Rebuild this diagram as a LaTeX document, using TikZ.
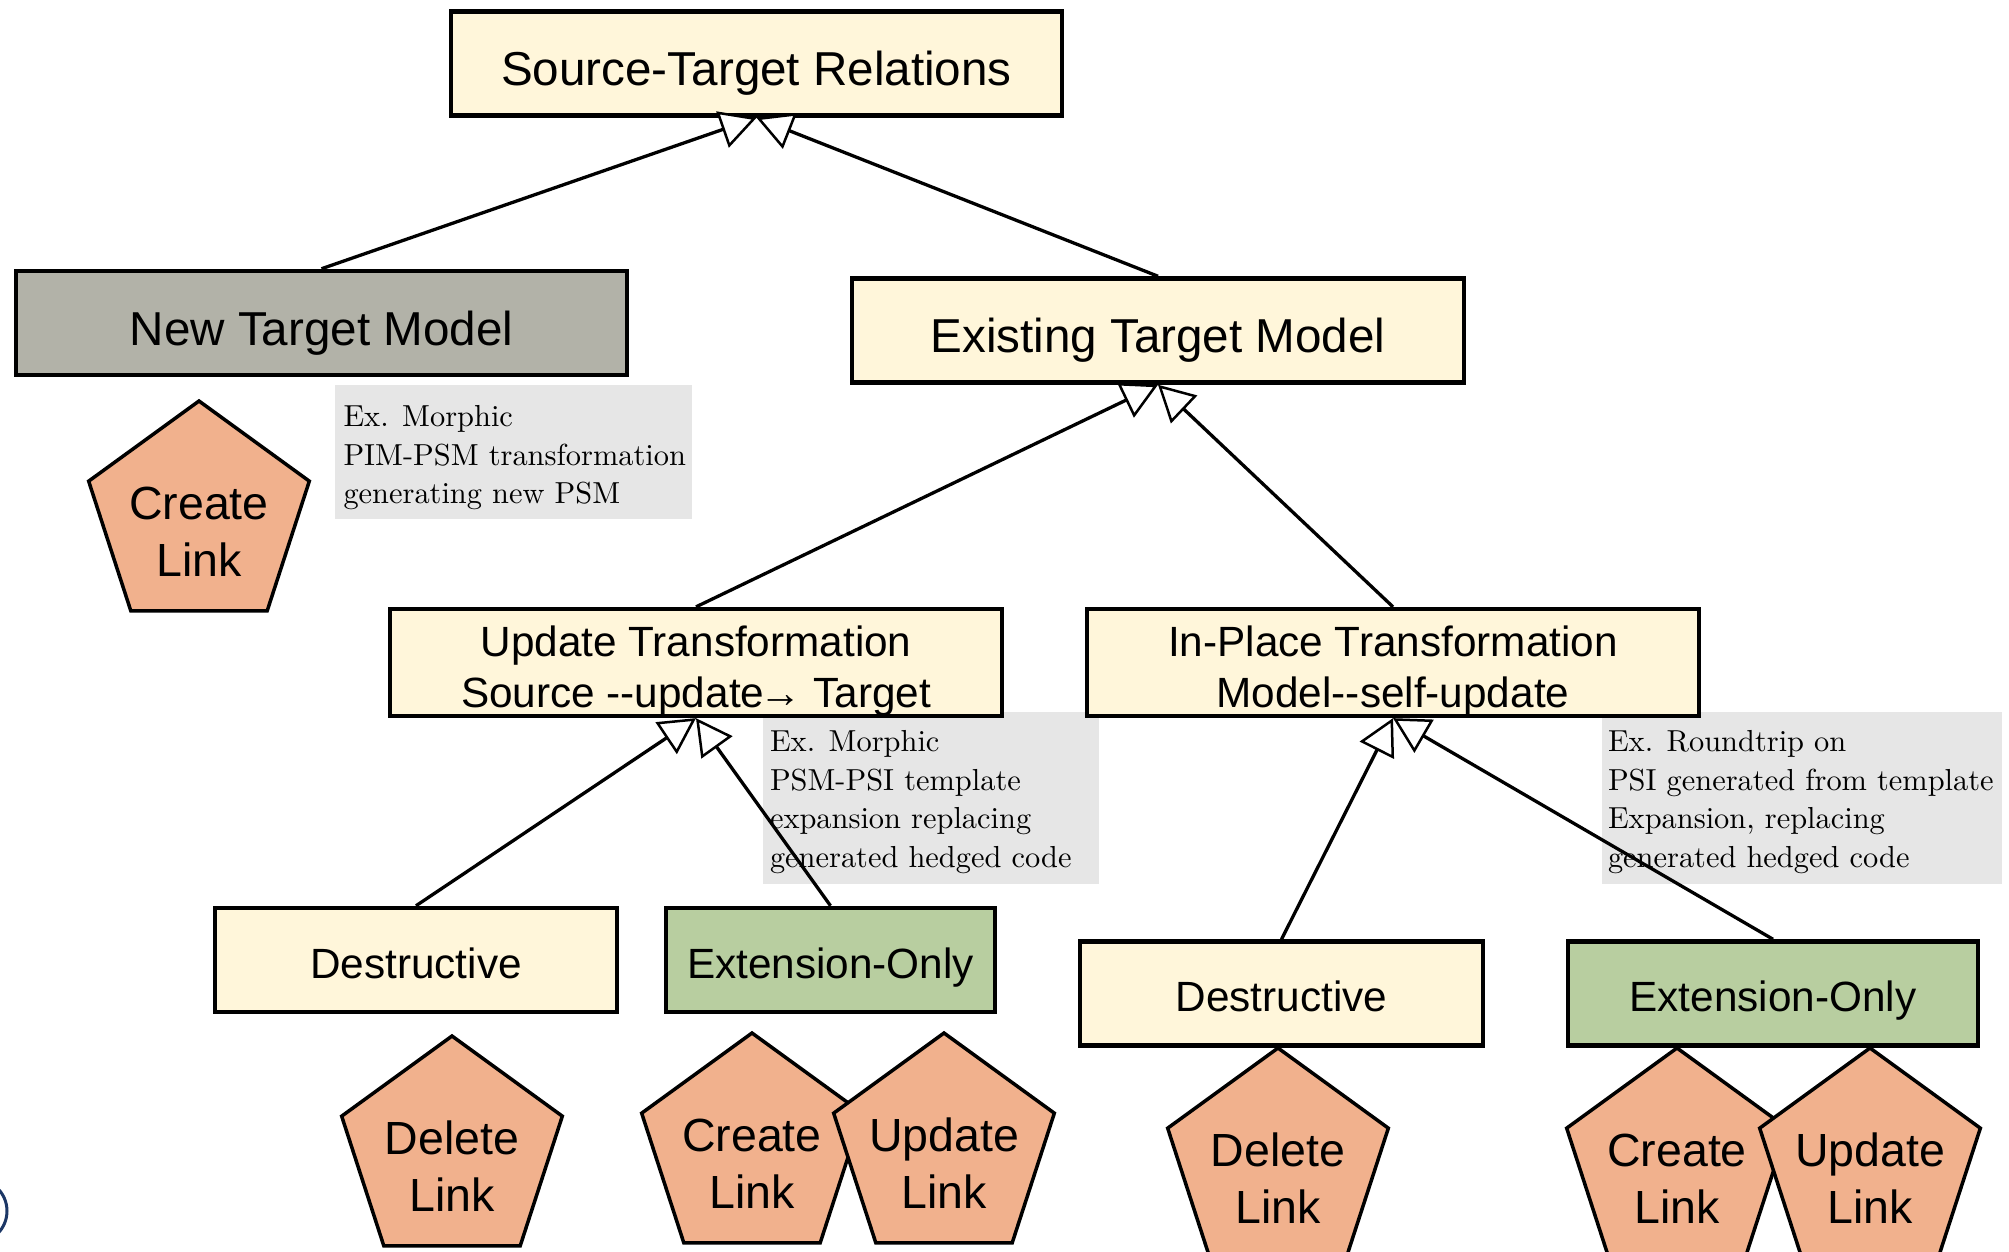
\documentclass[tikz,border=0pt]{standalone}
\usepackage{fontspec}
\setmainfont{Liberation Sans}[Ligatures=TeXOff]
\newfontfamily\notefont{lmroman10-regular}[Extension=.otf]
\usetikzlibrary{arrows.meta,shapes.geometric}
\definecolor{boxyellow}{HTML}{FFF6DA}
\definecolor{boxgray}{HTML}{B2B2A8}
\definecolor{boxgreen}{HTML}{B8CEA0}
\definecolor{pentafill}{HTML}{F1B18D}
\definecolor{notegray}{HTML}{E6E6E6}
\definecolor{navyline}{HTML}{1C3766}
\newcommand\tlx[2]{\rule{0pt}{47pt}#1\\#2}
\begin{document}
\begin{tikzpicture}[x=1pt,y=-1pt,
  box/.style={draw, line width=4.5pt, inner sep=0pt, align=center},
  bigbox/.style={box, minimum height=104pt, font=\fontsize{47.6}{57}\selectfont, text height=44pt, text depth=0pt},
  twobox/.style={box, fill=boxyellow, minimum width=612pt, minimum height=105pt, font=\fontsize{42.3}{51}\selectfont},
  smallbox/.style={box, minimum height=104pt, font=\fontsize{42.3}{51}\selectfont, text height=36pt, text depth=0pt},
  penta/.style={regular polygon, regular polygon sides=5, minimum size=232pt, draw, line width=3.5pt, line join=miter, fill=pentafill, inner sep=0pt},
  ptext/.style={align=center, inner sep=0pt, yshift=-14.5pt, font=\fontsize{46.5}{57}\selectfont},
  note/.style={fill=notegray, inner sep=0pt},
  notetext/.style={anchor=west, inner sep=0pt, align=left, font=\notefont\fontsize{30.4}{38.5}\selectfont},
  gen/.style={line width=3.3pt, -{Triangle[length=36pt, width=38pt, fill=white, line width=2.5pt, line join=miter]}}
]
\useasboundingbox (0,0) rectangle (2009,1251);
\clip (0,0) rectangle (2009,1251);

% notes
\node[note, minimum width=357pt, minimum height=134pt] (n1) at (513.5,452) {};
\node[notetext] (n1t) at ([xshift=8.5pt, yshift=-6pt]n1.west) {Ex. Morphic\\PIM-PSM transformation\\generating new PSM};
\node[note, minimum width=336pt, minimum height=172pt] (n2) at (931,798) {};
\node[notetext] (n2t) at ([xshift=7pt, yshift=-4pt]n2.west) {Ex. Morphic\\PSM-PSI template\\expansion replacing\\generated hedged code};
\node[note, minimum width=400pt, minimum height=172pt] (n3) at (1802,798) {};
\node[notetext] (n3t) at ([xshift=6pt, yshift=-4pt]n3.west) {Ex. Roundtrip on\\PSI generated from template\\Expansion, replacing\\generated hedged code};

% boxes
\node[bigbox, fill=boxyellow, minimum width=611pt] (str) at (756.5,63.5) {Source-Target Relations};
\node[bigbox, fill=boxgray, minimum width=611pt] (ntm) at (321.5,323) {New Target Model};
\node[bigbox, fill=boxyellow, minimum width=612pt] (etm) at (1158,330.5) {Existing Target Model};
\node[twobox] (ut) at (696,662.5) {\tlx{Update Transformation}{Source --update\kern-5pt→ Target}};
\node[twobox] (ip) at (1393,662.5) {\tlx{In-Place Transformation}{Model--self-update}};
\node[smallbox, fill=boxyellow, minimum width=402pt] (d1) at (416,960) {Destructive};
\node[smallbox, fill=boxgreen, minimum width=329pt] (e1) at (830.5,960) {Extension-Only};
\node[smallbox, fill=boxyellow, minimum width=403pt] (d2) at (1281.5,993.5) {Destructive};
\node[smallbox, fill=boxgreen, minimum width=410pt] (e2) at (1773,993.5) {Extension-Only};

% pentagons
\node[penta, label={[ptext]center:Create\\Link}] (p1) at (199,517) {};
\node[penta, label={[ptext]center:Delete\\Link}] (p2) at (452,1152) {};
\node[penta, label={[ptext]center:Create\\Link}] (p3) at (752,1149) {};
\node[penta, label={[ptext]center:Update\\Link}] (p4) at (944,1149) {};
\node[penta, label={[ptext]center:Delete\\Link}] (p5) at (1278,1164) {};
\node[penta, label={[ptext]center:Create\\Link}] (p6) at (1677,1164) {};
\node[penta, label={[ptext]center:Update\\Link}] (p7) at (1870,1164) {};

% generalisation connectors
\draw[gen] (ntm.north) -- (str.south);
\draw[gen] (etm.north) -- (str.south);
\draw[gen] (ut.north) -- (etm.south);
\draw[gen] (ip.north) -- (etm.south);
\draw[gen] (d1.north) -- (ut.south);
\draw[gen] (e1.north) -- (ut.south);
\draw[gen] (d2.north) -- (ip.south);
\draw[gen] (e2.north) -- (ip.south);

% partial circle at the left edge
\draw[navyline, line width=3pt] (-25,1211) circle[radius=32pt];
\end{tikzpicture}
\end{document}
